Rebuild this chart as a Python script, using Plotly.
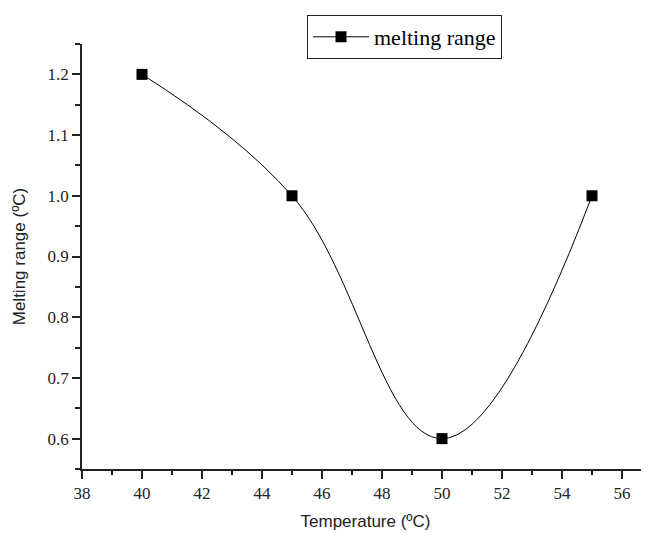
import plotly.graph_objects as go

temperature = [40, 45, 50, 55]
melting_range = [1.2, 1.0, 0.6, 1.0]
series_name = "melting range"
x_title = "Temperature (ºC)"
y_title = "Melting range (ºC)"

# page body adds an 8px offset; margins compensate for it
W, H = 649, 533
ML, MR, MT, MB = 74, 8, 36, 72
PW, PH = W - ML - MR, H - MT - MB

fig = go.Figure()
fig.add_trace(go.Scatter(
    x=temperature, y=melting_range, name=series_name,
    mode="lines+markers",
    line=dict(color="black", width=1, shape="spline", smoothing=1.15),
    marker=dict(symbol="square", size=11, color="black"),
))

axis_common = dict(
    showline=True, linecolor="#222", linewidth=1.5,
    ticks="outside", ticklen=8, tickwidth=1.5, tickcolor="#222",
    showgrid=False, zeroline=False, mirror=False, automargin=False,
    tickfont=dict(family="Liberation Serif", size=17, color="#222"),
    title_font=dict(family="Liberation Sans", size=17, color="#222"),
)

fig.update_layout(
    width=W, height=H,
    paper_bgcolor="white", plot_bgcolor="white",
    margin=dict(l=ML, r=MR, t=MT, b=MB, autoexpand=False),
    xaxis=dict(range=[38, 38 + PW / 30.0], tickmode="linear", tick0=38, dtick=2,
               title=dict(text=x_title, standoff=13),
               minor=dict(dtick=1, ticks="outside", ticklen=4, tickwidth=1.5, tickcolor="#222"),
               **axis_common),
    yaxis=dict(range=[0.55, 1.25], tickmode="linear", tick0=0.6, dtick=0.1,
               tickformat=".1f",
               title=dict(text=y_title, standoff=18),
               minor=dict(dtick=0.05, tick0=0.55, ticks="outside", ticklen=5, tickwidth=1.5, tickcolor="#222"),
               **axis_common),
    showlegend=True,
    legend=dict(x=(299 - ML) / PW, y=(H - 7 - MB) / PH,
                xanchor="left", yanchor="top",
                bordercolor="#222", borderwidth=1, bgcolor="white",
                font=dict(family="Liberation Serif", size=22, color="black"),
                itemwidth=56, tracegroupgap=0),
)

fig.write_html("out.html")
